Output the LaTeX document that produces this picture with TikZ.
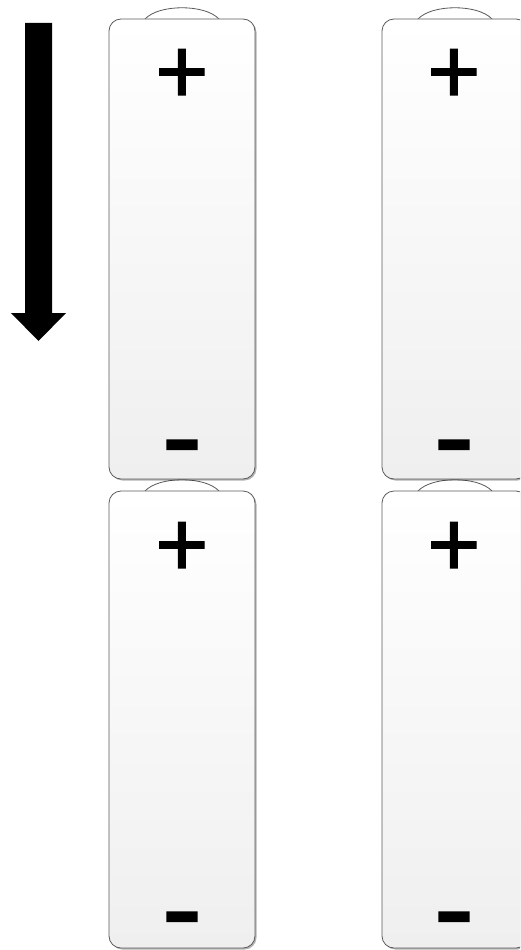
\documentclass[tikz,border=0pt]{standalone}
\usepackage{fontspec}
\setmainfont{Carlito}
\newfontfamily\signfont[FakeBold=1.2]{Carlito}
\usetikzlibrary{shadows}
\definecolor{edgegray}{HTML}{5A5A5A}
\definecolor{cellbot}{HTML}{EFEFEF}
\begin{document}
\begin{tikzpicture}[x=1pt,y=-1pt,
  cellbody/.style={draw=edgegray, line width=0.8pt, rounded corners=12pt,
    minimum width=146pt, inner sep=0pt, top color=white, bottom color=cellbot,
    drop shadow={shadow xshift=1.5pt, shadow yshift=-1.5pt, fill=black, opacity=0.3}},
  cellcap/.style={draw=edgegray, line width=0.8pt, fill=white},
  plussign/.style={inner sep=0pt, anchor=center, text height=21pt, text depth=21pt,
    font=\signfont\fontsize{98}{98}\selectfont},
  minussign/.style={inner sep=0pt, anchor=center, text height=4pt, text depth=4pt,
    font=\signfont\fontsize{128}{128}\selectfont},
  bigarrow/.style={fill=black}]
\useasboundingbox (0,0) rectangle (520,950);
\clip (0,0) rectangle (520,950);
% arrow
\fill[bigarrow] (25,23) -- (52,23) -- (52,313) -- (66,313) -- (38.5,341) -- (11,313) -- (25,313) -- cycle;
% caps (behind bodies)
\foreach \n/\cx/\ty in {1/182/19, 2/182/491, 3/455/19, 4/455/491}{
  \coordinate (cap\n) at (\cx,\ty);
  \draw[cellcap] ([xshift=-37pt]cap\n) .. controls +(14,-15) and +(-14,-15) .. ([xshift=37pt]cap\n);
}
% bodies
\node[cellbody, minimum height=460pt] (b1) at (182,249) {};
\node[cellbody, minimum height=457pt] (b2) at (182,719.5) {};
\node[cellbody, minimum height=460pt] (b3) at (455,249) {};
\node[cellbody, minimum height=457pt] (b4) at (455,719.5) {};
% terminals
\newcommand\plusglyph{\raisebox{-0.316em}{+}}
\newcommand\minusglyph{\raisebox{-0.296em}{-}}
\node[plussign] (p1) at (182,72) {\plusglyph};
\node[plussign] (p2) at (182,545) {\plusglyph};
\node[plussign] (p3) at (454,72) {\plusglyph};
\node[plussign] (p4) at (454,545) {\plusglyph};
\node[minussign] (m1) at (182,443) {\minusglyph};
\node[minussign] (m2) at (182,915) {\minusglyph};
\node[minussign] (m3) at (454,443) {\minusglyph};
\node[minussign] (m4) at (454,915) {\minusglyph};
\end{tikzpicture}
\end{document}
